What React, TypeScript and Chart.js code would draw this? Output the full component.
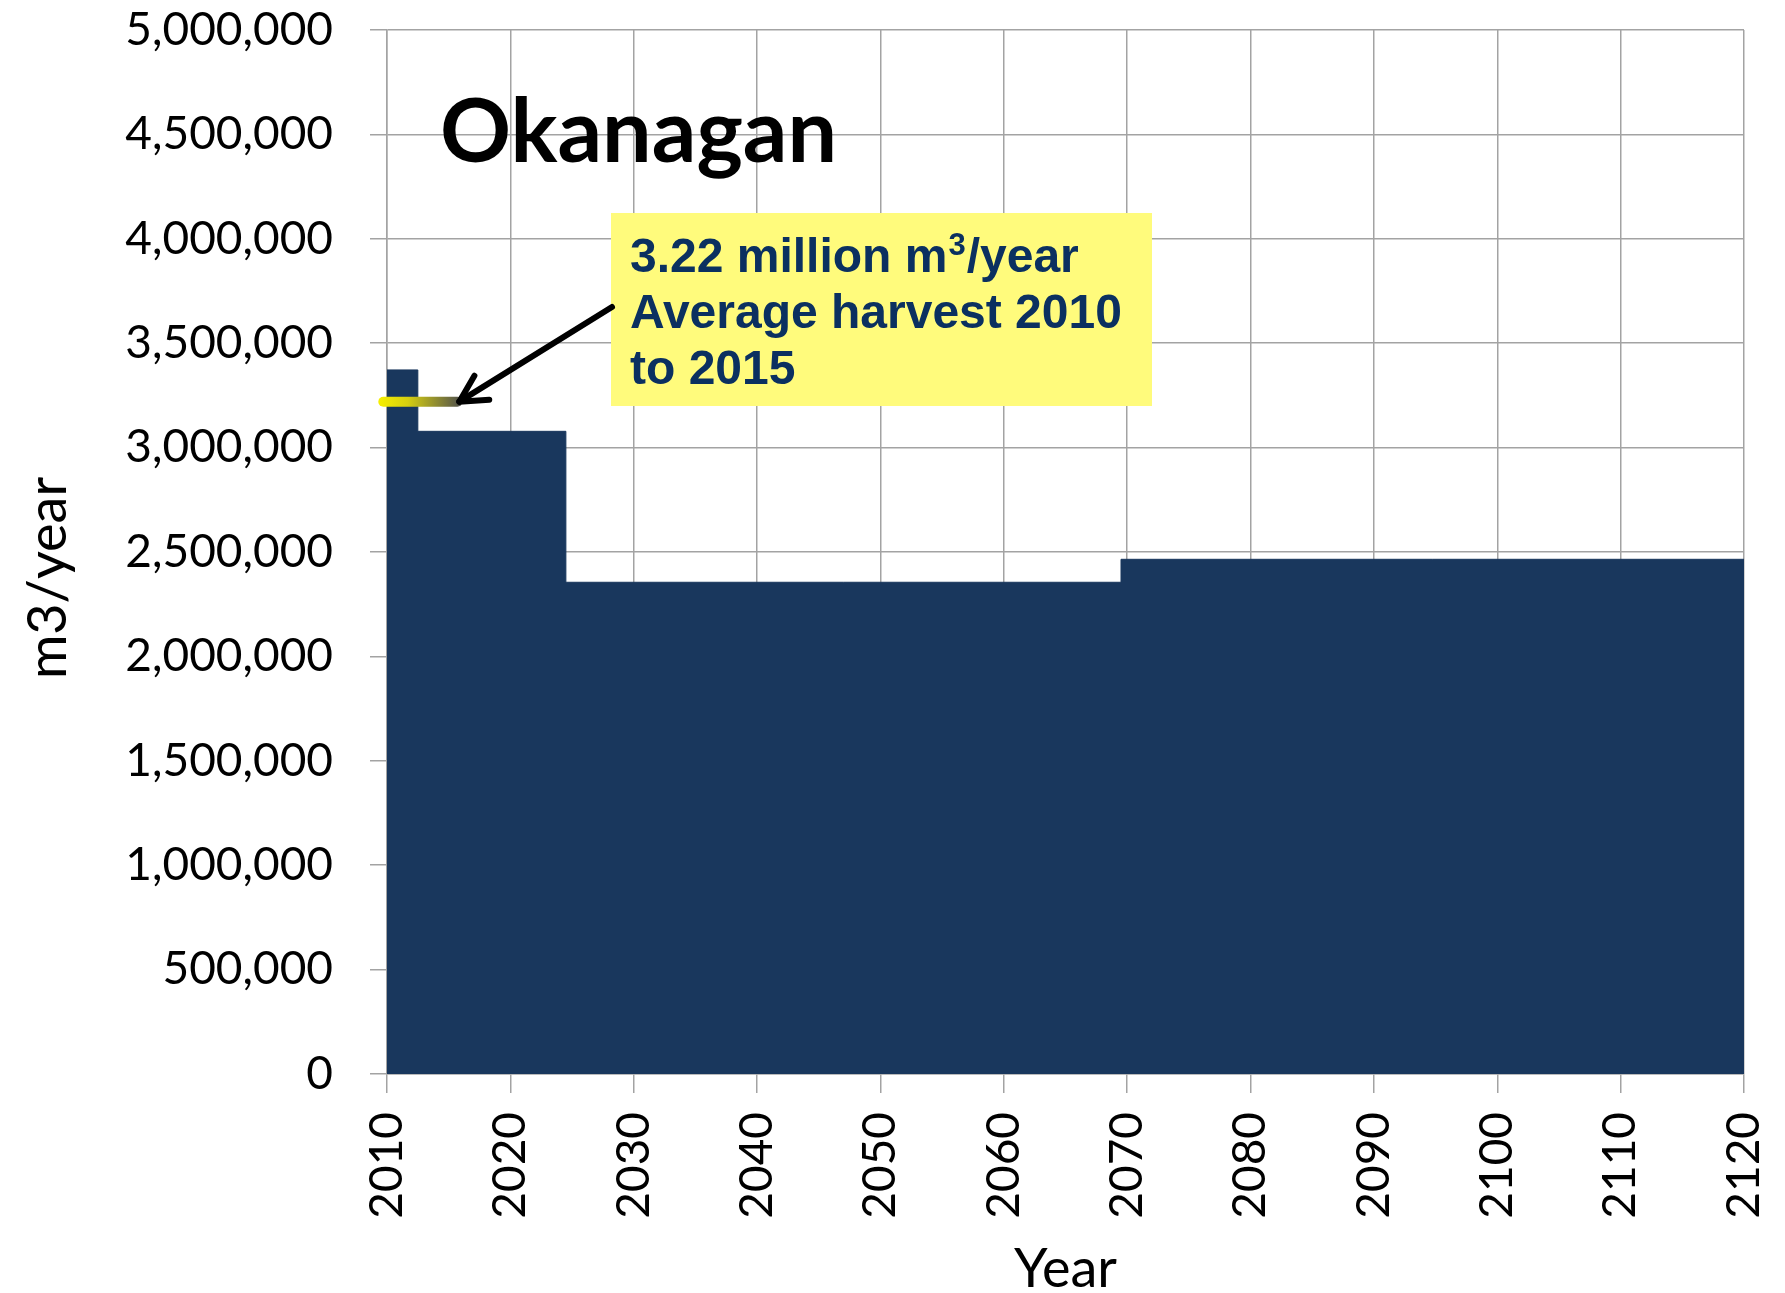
import React, { useEffect, useRef } from 'react';
import { Chart, registerables } from 'chart.js';

Chart.register(...registerables);

// Step changes of the harvest level (year where each level starts), m3/year
const stepYears = [2010, 2012.5, 2024.5, 2069.5, 2120];
const harvestLevels = [3372000, 3078000, 2355000, 2465000, 2465000];

// Average harvest 2010-2015 marker
const avgYears = [2009.7, 2015.7];
const avgHarvest = [3220000, 3220000];

// Tick values
const xTickValues = [2010, 2020, 2030, 2040, 2050, 2060, 2070, 2080, 2090, 2100, 2110, 2120];
const yTickValues = [0, 500000, 1000000, 1500000, 2000000, 2500000, 3000000, 3500000, 4000000, 4500000, 5000000];

const chartTitle = 'Okanagan';
const xTitle = 'Year';
const yTitle = 'm3/year';
const noteLine1a = '3.22 million m';
const noteSup = '3';
const noteLine1b = '/year';
const noteLine2 = 'Average harvest 2010';
const noteLine3 = 'to 2015';

const FONT = 'Lato, "Open Sans", sans-serif';
const GRID = '#a3a3a3';
const NAVY = '#19375d';

const zeroPad = (s: any) => {
  s.paddingTop = 0;
  s.paddingBottom = 0;
  s.paddingLeft = 0;
  s.paddingRight = 0;
};

const overlayPlugin = {
  id: 'overlay',
  afterDatasetsDraw(chart: any) {
    const { ctx, scales } = chart;
    const x = scales.x;
    const y = scales.y;
    ctx.save();

    // Annotation box
    const bx = 611, by = 213, bw = 541, bh = 193;
    ctx.fillStyle = '#fffb7c';
    ctx.fillRect(bx, by, bw, bh);

    ctx.fillStyle = '#0b3060';
    ctx.textBaseline = 'alphabetic';
    ctx.textAlign = 'left';
    const mainFont = 'bold 48px "Liberation Sans", Arial, sans-serif';
    const supFont = 'bold 31px "Liberation Sans", Arial, sans-serif';
    const tx = 630;
    ctx.font = mainFont;
    ctx.fillText(noteLine1a, tx, 272);
    const w = ctx.measureText(noteLine1a).width;
    ctx.font = supFont;
    ctx.fillText(noteSup, tx + w + 1, 255);
    const sw = ctx.measureText(noteSup).width;
    ctx.font = mainFont;
    ctx.fillText(noteLine1b, tx + w + sw + 2, 272);
    ctx.fillText(noteLine2, tx, 328);
    ctx.fillText(noteLine3, tx, 384);

    // Arrow
    const tipX = x.getPixelForValue(avgYears[1]) + 2;
    const tipY = y.getPixelForValue(avgHarvest[1]);
    const sx = bx + 1, sy = 307;
    ctx.strokeStyle = '#000';
    ctx.lineWidth = 6;
    ctx.lineCap = 'round';
    ctx.lineJoin = 'round';
    ctx.beginPath();
    ctx.moveTo(sx, sy);
    ctx.lineTo(tipX, tipY);
    ctx.stroke();
    const ang = Math.atan2(sy - tipY, sx - tipX);
    const len = 30;
    const spread = (28 * Math.PI) / 180;
    ctx.beginPath();
    ctx.moveTo(tipX + len * Math.cos(ang - spread), tipY + len * Math.sin(ang - spread));
    ctx.lineTo(tipX, tipY);
    ctx.lineTo(tipX + len * Math.cos(ang + spread), tipY + len * Math.sin(ang + spread));
    ctx.stroke();

    ctx.restore();
  },
  afterDraw(chart: any) {
    const { ctx, chartArea } = chart;
    ctx.save();
    ctx.fillStyle = '#000';
    // Chart title
    ctx.font = 'bold 88px ' + FONT;
    ctx.textAlign = 'left';
    ctx.textBaseline = 'alphabetic';
    ctx.fillText(chartTitle, 440, 162);
    // X title
    ctx.font = '54px ' + FONT;
    ctx.textAlign = 'center';
    ctx.fillText(xTitle, (chartArea.left + chartArea.right) / 2, 1287);
    // Y title
    ctx.translate(49, 578);
    ctx.rotate(-Math.PI / 2);
    ctx.textBaseline = 'middle';
    ctx.fillText(yTitle, 0, 0);
    ctx.restore();
  },
};

export default function App() {
  const ref = useRef<HTMLCanvasElement>(null);

  useEffect(() => {
    if (!ref.current) return;
    const chart = new Chart(ref.current, {
      type: 'line',
      data: {
        datasets: [
          {
            label: 'Average harvest 2010-2015',
            data: avgYears.map((yr, i) => ({ x: yr, y: avgHarvest[i] })),
            borderWidth: 10,
            borderCapStyle: 'round',
            pointRadius: 0,
            fill: false,
            clip: false as any,
            borderColor: (c: any) => {
              const ch = c.chart;
              if (!ch.chartArea) return '#e0d800';
              const xs = ch.scales.x;
              const x0 = xs.getPixelForValue(avgYears[0]);
              const x1 = xs.getPixelForValue(avgYears[1]);
              const g = ch.ctx.createLinearGradient(x0 - 5, 0, x1 + 5, 0);
              g.addColorStop(0, '#f6ef00');
              g.addColorStop(0.35, '#d6cf10');
              g.addColorStop(1, '#4e4e4e');
              return g;
            },
          },
          {
            label: 'Harvest',
            data: stepYears.map((yr, i) => ({ x: yr, y: harvestLevels[i] })),
            stepped: 'before' as any,
            fill: 'origin',
            backgroundColor: NAVY,
            borderColor: NAVY,
            borderWidth: 1,
            pointRadius: 0,
          },
        ],
      },
      options: {
        animation: false,
        responsive: false,
        layout: { padding: { top: 30, right: 41, left: 0, bottom: 0 } },
        plugins: { legend: { display: false }, tooltip: { enabled: false }, title: { display: false } },
        scales: {
          x: {
            type: 'linear',
            min: 2010,
            max: 2120,
            afterBuildTicks: (s: any) => {
              s.ticks = xTickValues.map((v) => ({ value: v }));
            },
            afterFit: (s: any) => {
              s.height = 219;
              zeroPad(s);
            },
            ticks: {
              autoSkip: false,
              maxRotation: 90,
              minRotation: 90,
              padding: 19,
              color: '#000',
              font: { family: FONT, size: 46 },
              callback: (v: any) => String(v),
            },
            grid: { color: GRID, lineWidth: 1.5, tickLength: 19, tickColor: GRID },
            border: { color: GRID, width: 1.5 },
          },
          y: {
            type: 'linear',
            min: 0,
            max: 5000000,
            afterBuildTicks: (s: any) => {
              s.ticks = yTickValues.map((v) => ({ value: v }));
            },
            afterFit: (s: any) => {
              s.width = 387;
              zeroPad(s);
            },
            ticks: {
              padding: 37,
              color: '#000',
              font: { family: FONT, size: 46 },
              callback: (v: any) => Number(v).toLocaleString('en-US'),
            },
            grid: { color: GRID, lineWidth: 1.5, tickLength: 17, tickColor: GRID },
            border: { color: GRID, width: 1.5 },
          },
        },
      },
      plugins: [overlayPlugin],
    });
    return () => chart.destroy();
  }, []);

  return (
    <div style={{ position: 'absolute', left: 0, top: 0, width: 1785, height: 1293, background: '#fff' }}>
      <canvas ref={ref} width={1785} height={1293} style={{ display: 'block' }} />
    </div>
  );
}
